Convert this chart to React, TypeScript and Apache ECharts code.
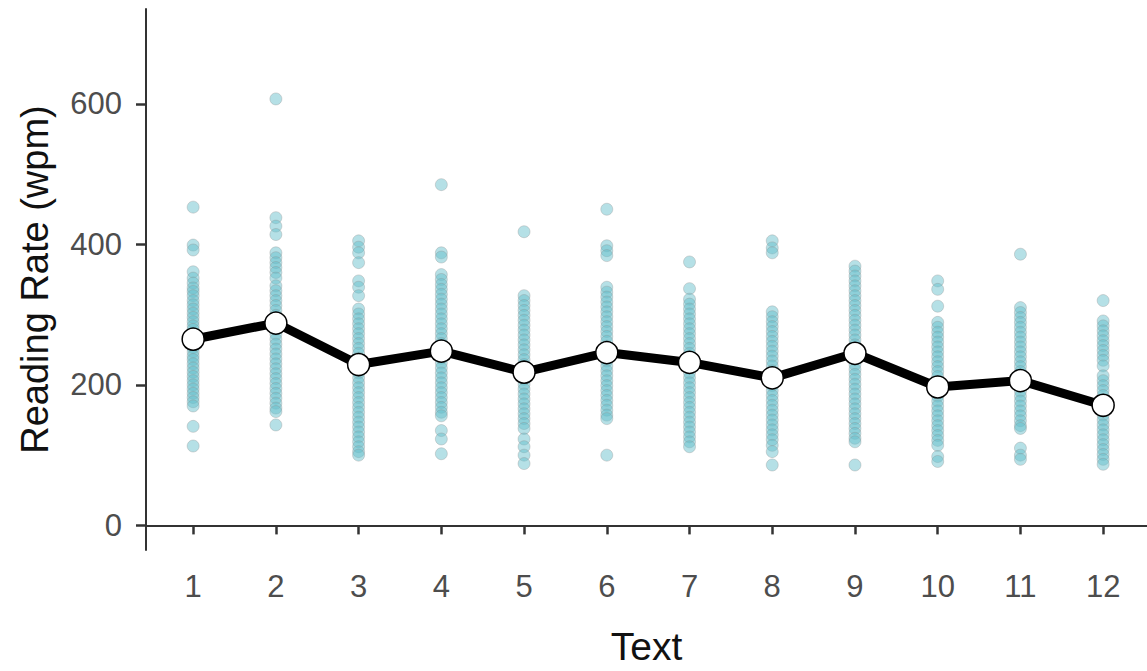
import React, { useEffect, useRef } from "react";
import * as echarts from "echarts";

const texts = [1, 2, 3, 4, 5, 6, 7, 8, 9, 10, 11, 12];
const meanRate = [265, 288, 229, 248, 218, 246, 232, 210, 245, 197, 206, 171];
const yTicks = [0, 200, 400, 600];

const rate1 = [453, 399, 392, 361, 352, 345, 338, 333, 327, 320, 314, 308, 302, 296, 290, 284, 279, 272, 266, 259, 253, 247, 241, 236, 230, 224, 218, 212, 206, 200, 194, 188, 182, 176, 170, 141, 113];
const rate2 = [607, 438, 426, 414, 388, 381, 374, 367, 360, 352, 341, 334, 327, 320, 313, 306, 299, 292, 286, 279, 272, 265, 258, 251, 244, 237, 230, 223, 216, 209, 202, 195, 188, 181, 174, 167, 162, 143];
const rate3 = [405, 396, 388, 374, 348, 339, 327, 308, 301, 294, 287, 280, 273, 266, 259, 252, 245, 238, 231, 224, 217, 210, 203, 196, 189, 182, 175, 168, 161, 154, 147, 140, 133, 126, 119, 112, 105, 100];
const rate4 = [485, 388, 382, 357, 350, 343, 336, 329, 322, 315, 308, 301, 294, 287, 280, 273, 266, 259, 252, 245, 238, 231, 224, 217, 210, 203, 196, 189, 182, 175, 168, 161, 156, 135, 123, 102];
const rate5 = [418, 327, 320, 313, 306, 299, 292, 285, 278, 271, 264, 257, 250, 243, 236, 229, 222, 215, 208, 201, 194, 187, 180, 173, 166, 159, 152, 145, 138, 123, 112, 100, 88];
const rate6 = [450, 398, 391, 384, 339, 332, 325, 318, 311, 304, 297, 290, 283, 276, 269, 262, 255, 248, 241, 234, 227, 220, 213, 206, 199, 192, 185, 178, 171, 164, 157, 152, 100];
const rate7 = [375, 337, 322, 315, 308, 301, 294, 287, 280, 273, 266, 259, 252, 245, 238, 231, 224, 217, 210, 203, 196, 189, 182, 175, 168, 161, 154, 147, 140, 133, 126, 119, 112];
const rate8 = [405, 395, 388, 304, 297, 290, 283, 276, 269, 262, 255, 248, 241, 234, 227, 220, 213, 206, 199, 192, 185, 178, 171, 164, 157, 150, 143, 136, 129, 122, 114, 105, 86];
const rate9 = [369, 362, 355, 348, 341, 334, 327, 320, 313, 306, 299, 292, 285, 278, 271, 264, 257, 250, 243, 236, 229, 222, 215, 208, 201, 194, 187, 180, 173, 166, 159, 152, 145, 138, 131, 124, 119, 86];
const rate10 = [348, 336, 312, 289, 282, 275, 268, 261, 254, 247, 240, 233, 226, 219, 212, 205, 198, 191, 184, 177, 170, 163, 156, 149, 142, 135, 128, 121, 114, 98, 91];
const rate11 = [386, 310, 303, 296, 289, 282, 275, 268, 261, 254, 247, 240, 233, 226, 219, 212, 205, 198, 191, 184, 177, 170, 163, 156, 149, 142, 138, 110, 100, 94];
const rate12 = [320, 291, 284, 277, 270, 263, 256, 249, 242, 235, 227, 213, 206, 199, 192, 185, 178, 171, 164, 157, 150, 143, 136, 129, 122, 115, 108, 101, 94, 87];

const allRates = [rate1, rate2, rate3, rate4, rate5, rate6, rate7, rate8, rate9, rate10, rate11, rate12];

const FONT = "'Liberation Sans', Arial, Helvetica, sans-serif";

export default function App() {
  const ref = useRef<HTMLDivElement>(null);

  useEffect(() => {
    if (!ref.current) return;
    const chart = echarts.init(ref.current, undefined, { renderer: "svg" });

    const scatterData: number[][] = [];
    texts.forEach((t, i) => {
      allRates[i].forEach((v) => scatterData.push([t, v]));
    });
    const meanData = texts.map((t, i) => [t, meanRate[i]]);

    chart.setOption({
      animation: false,
      backgroundColor: "#ffffff",
      grid: { left: 146, right: 0, top: 9, bottom: 119, containLabel: false },
      xAxis: {
        type: "value",
        min: 0.43,
        max: 12.53,
        name: "Text",
        nameLocation: "middle",
        nameGap: 77,
        nameTextStyle: { fontFamily: FONT, fontSize: 39, color: "#111111" },
        splitLine: { show: false },
        axisLine: { show: true, lineStyle: { color: "#333333", width: 2 } },
        axisTick: { show: true, length: 9, lineStyle: { color: "#333333", width: 2.5 }, customValues: texts },
        axisLabel: { fontFamily: FONT, fontSize: 31, color: "#4D4D4D", margin: 21, customValues: texts },
      },
      yAxis: {
        type: "value",
        min: -35,
        max: 735,
        name: "Reading Rate (wpm)",
        nameLocation: "middle",
        nameGap: 92,
        nameRotate: 90,
        nameTextStyle: { fontFamily: FONT, fontSize: 38, color: "#111111" },
        splitLine: { show: false },
        axisLine: { show: true, lineStyle: { color: "#333333", width: 2 } },
        axisTick: { show: true, length: 10, lineStyle: { color: "#333333", width: 2.5 }, customValues: yTicks },
        axisLabel: { fontFamily: FONT, fontSize: 31, color: "#4D4D4D", margin: 24, customValues: yTicks },
      },
      series: [
        {
          type: "scatter",
          data: scatterData,
          symbol: "circle",
          symbolSize: 12,
          itemStyle: {
            color: "rgba(100, 190, 202, 0.6)",
            borderColor: "rgba(140, 140, 140, 0.4)",
            borderWidth: 1,
          },
          z: 2,
        },
        {
          type: "line",
          data: meanData,
          symbol: "circle",
          symbolSize: 22,
          showSymbol: true,
          lineStyle: { color: "#000000", width: 9 },
          itemStyle: { color: "#ffffff", borderColor: "#000000", borderWidth: 1.5 },
          z: 3,
        },
      ],
    });

    return () => chart.dispose();
  }, []);

  return (
    <div
      ref={ref}
      style={{ position: "fixed", left: 0, top: 0, width: 1147, height: 671, background: "#fff" }}
    />
  );
}
